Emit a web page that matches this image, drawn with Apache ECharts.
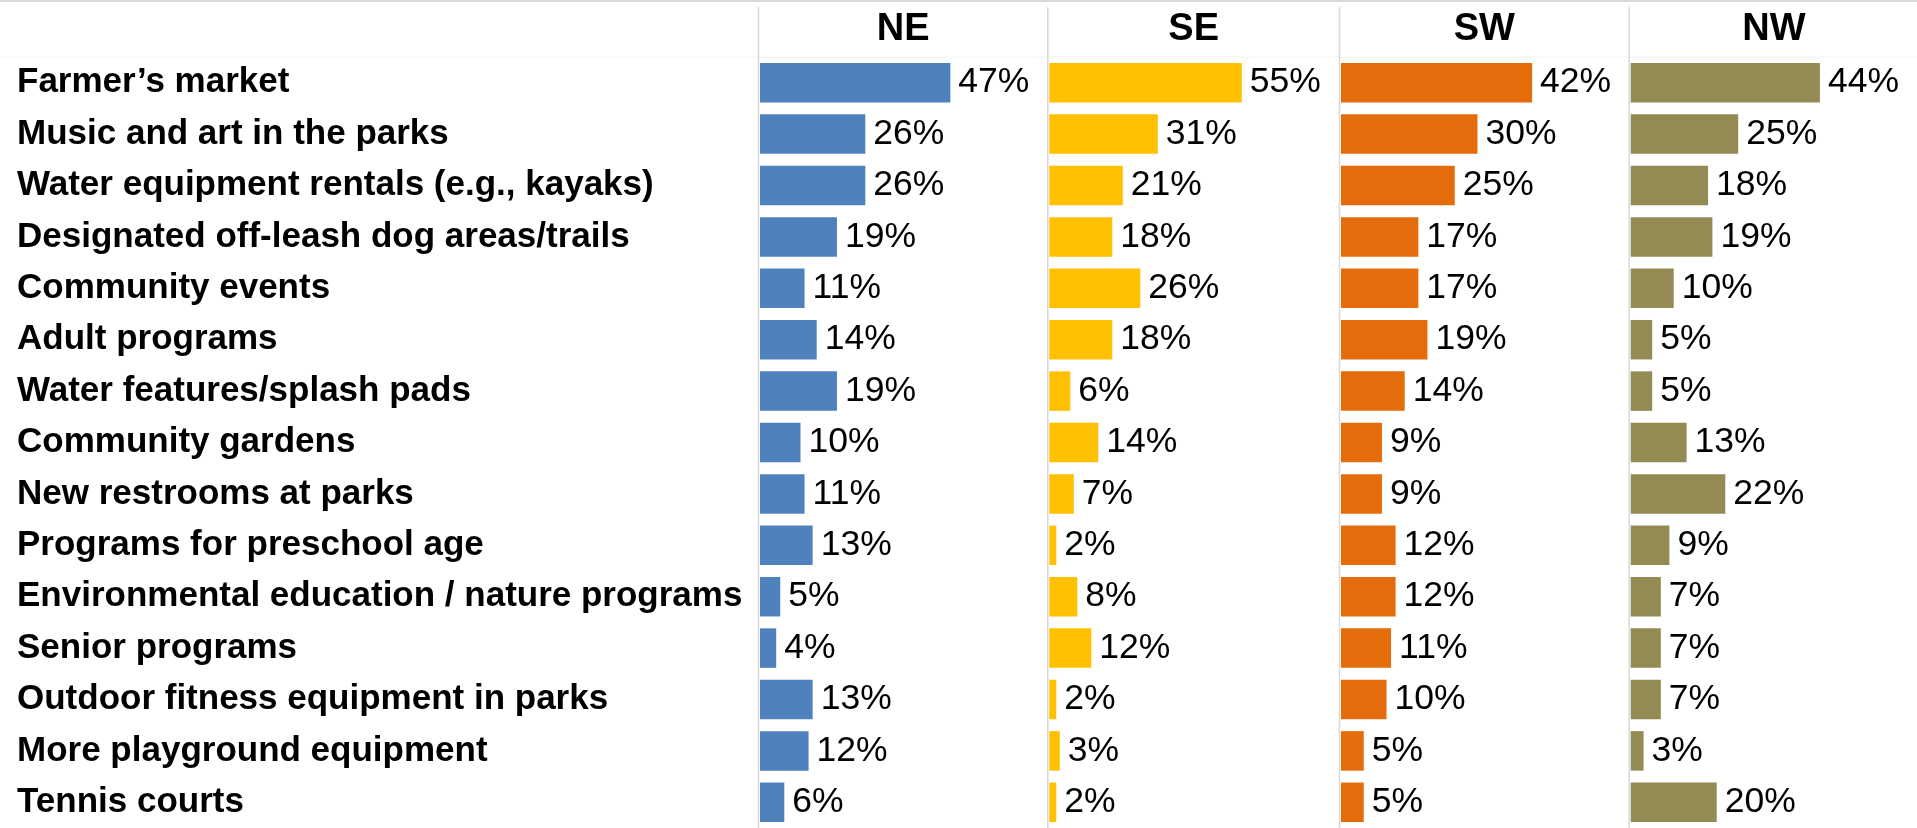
<!DOCTYPE html>
<html>
<head>
<meta charset="utf-8">
<title>Desired park amenities by region</title>
<script src="https://cdn.jsdelivr.net/npm/echarts@6/dist/echarts.min.js"></script>
<style>
  html, body { margin: 0; padding: 0; background: #ffffff; }
  #chart { width: 1917px; height: 828px; }
</style>
</head>
<body>
<div id="chart"></div>
<script>
// Amenities, top to bottom
const categories = [
  'Farmer\u2019s market',
  'Music and art in the parks',
  'Water equipment rentals (e.g., kayaks)',
  'Designated off-leash dog areas/trails',
  'Community events',
  'Adult programs',
  'Water features/splash pads',
  'Community gardens',
  'New restrooms at parks',
  'Programs for preschool age',
  'Environmental education / nature programs',
  'Senior programs',
  'Outdoor fitness equipment in parks',
  'More playground equipment',
  'Tennis courts'
];

const regions = ['NE', 'SE', 'SW', 'NW'];

// Share of respondents (%) per region, same order as categories
const neValues = [47, 26, 26, 19, 11, 14, 19, 10, 11, 13, 5, 4, 13, 12, 6];
const seValues = [55, 31, 21, 18, 26, 18, 6, 14, 7, 2, 8, 12, 2, 3, 2];
const swValues = [42, 30, 25, 17, 17, 19, 14, 9, 9, 12, 12, 11, 10, 5, 5];
const nwValues = [44, 25, 18, 19, 10, 5, 5, 13, 22, 9, 7, 7, 7, 3, 20];

const regionColors = ['#4F81BD', '#FFC000', '#E46C0A', '#948A54'];

// Panel layout (pixels) and value-axis range per panel
const panelLeft = [760, 1049.3, 1341, 1630.7];
const panelWidth = [283.5, 280, 273, 258];
const panelMax = [70, 80, 60, 60];
const plotTop = 57;
const rowPitch = 51.7;
const barThickness = 39.5;
const FONT = '"Liberation Sans", Arial, Helvetica, sans-serif';

const allValues = [neValues, seValues, swValues, nwValues];

const grids = [], xAxes = [], yAxes = [], series = [];
regions.forEach((name, i) => {
  grids.push({
    left: panelLeft[i],
    top: plotTop,
    width: panelWidth[i],
    height: rowPitch * categories.length,
    containLabel: false
  });
  xAxes.push({
    type: 'value', gridIndex: i, min: 0, max: panelMax[i],
    show: false
  });
  yAxes.push({
    type: 'category', gridIndex: i, data: categories, inverse: true,
    axisLine: { show: false }, axisTick: { show: false }, splitLine: { show: false },
    axisLabel: i === 0 ? {
      show: true,
      align: 'left',
      margin: panelLeft[0] - 17,
      fontFamily: FONT, fontWeight: 'bold', fontSize: 35, color: '#000000'
    } : { show: false }
  });
  series.push({
    name: name,
    type: 'bar',
    xAxisIndex: i, yAxisIndex: i,
    data: allValues[i],
    barWidth: barThickness,
    itemStyle: { color: regionColors[i] },
    label: {
      show: true, position: 'right', distance: 8,
      formatter: '{c}%',
      fontFamily: FONT, fontSize: 35.5, color: '#000000'
    },
    emphasis: { disabled: true },
    animation: false
  });
});

// Panel headers and divider rules
const graphics = [
  { type: 'rect', shape: { x: 0, y: 0, width: 1917, height: 2 }, style: { fill: '#d9d9d9' }, silent: true },
  { type: 'line', shape: { x1: 0, y1: 57, x2: 1917, y2: 57 }, style: { stroke: '#f2f2f2', lineWidth: 1 }, silent: true }
];
regions.forEach((name, i) => {
  const lineX = panelLeft[i] - 1.5;
  const nextX = i < regions.length - 1 ? panelLeft[i + 1] - 1.5 : 1917 + 1.5;
  graphics.push({
    type: 'line', shape: { x1: lineX, y1: 7, x2: lineX, y2: 828 },
    style: { stroke: '#d9d9d9', lineWidth: 1.5 }, silent: true
  });
  graphics.push({
    type: 'text', x: (lineX + nextX) / 2, y: 30,
    style: {
      text: name, fill: '#000000', font: 'bold 38px ' + FONT,
      textAlign: 'center', textVerticalAlign: 'middle'
    },
    silent: true
  });
});

const chart = echarts.init(document.getElementById('chart'), null, { renderer: 'canvas' });
chart.setOption({
  backgroundColor: '#ffffff',
  animation: false,
  grid: grids,
  xAxis: xAxes,
  yAxis: yAxes,
  series: series,
  graphic: graphics
});
</script>
</body>
</html>
